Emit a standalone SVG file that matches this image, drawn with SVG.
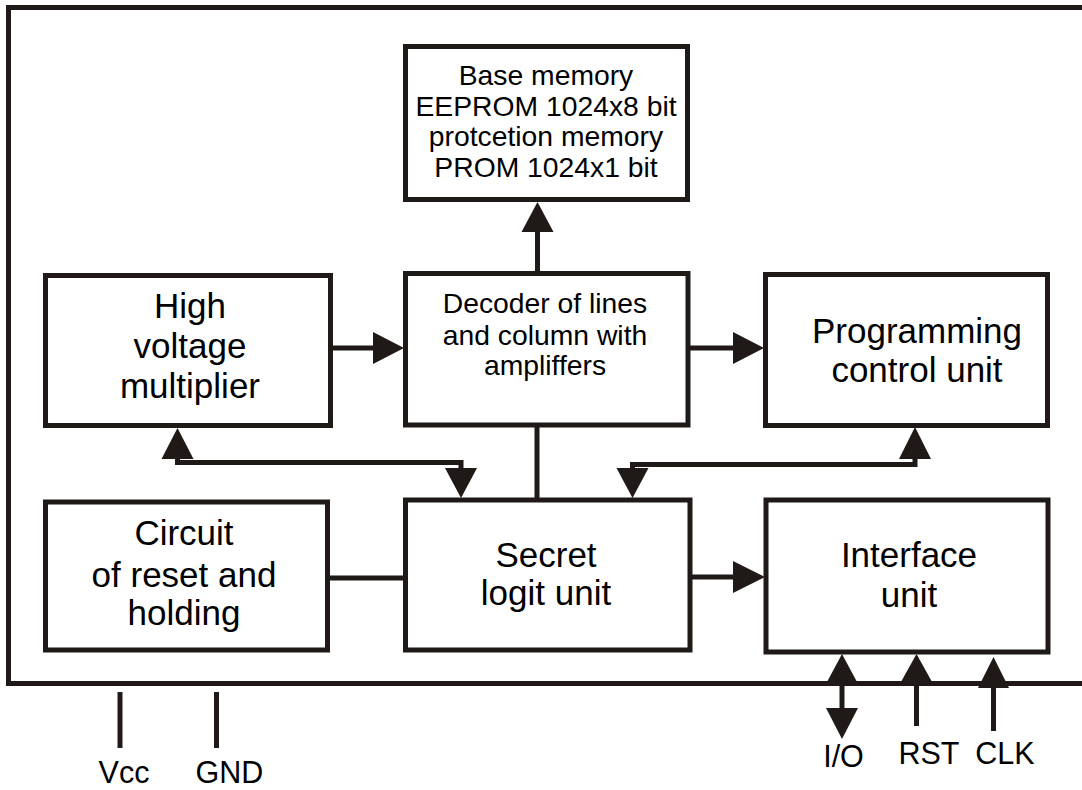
<svg xmlns="http://www.w3.org/2000/svg" width="1082" height="790" viewBox="0 0 1082 790">
<style>
.box{fill:#fff;stroke:#1f1a17;stroke-width:5}
.ln{fill:none;stroke:#1f1a17;stroke-width:5;stroke-linejoin:miter;stroke-linecap:butt}
.ah{fill:#1f1a17;stroke:none}
.t{font-family:"Liberation Sans",Arial,sans-serif;fill:#000;text-anchor:middle}
.s{font-size:28.3px}
.b{font-size:35px}
.p{font-size:30.5px}
</style>
<rect width="1082" height="790" fill="#fff"/>
<g id="frame">
<path class="ln" d="M1082 7.5H8.5V683.5H1082"/>
</g>
<g id="memory">
<rect class="box" x="405.5" y="46.5" width="282" height="153"/>
<text class="t s" x="546" y="85">Base memory</text>
<text class="t s" x="546" y="116">EEPROM 1024x8 bit</text>
<text class="t s" x="546" y="146">protcetion memory</text>
<text class="t s" x="546" y="177">PROM 1024x1 bit</text>
</g>
<g id="hv">
<rect class="box" x="45.5" y="275.5" width="285" height="150"/>
<text class="t b" x="190" y="318">High</text>
<text class="t b" x="190" y="358">voltage</text>
<text class="t b" x="190" y="398">multiplier</text>
</g>
<g id="decoder">
<rect class="box" x="405.5" y="273.5" width="282.5" height="151.5"/>
<text class="t s" x="545" y="313">Decoder of lines</text>
<text class="t s" x="545" y="345">and column with</text>
<text class="t s" x="545" y="375">ampliffers</text>
</g>
<g id="programming">
<rect class="box" x="765.5" y="274.5" width="282" height="151"/>
<text class="t b" x="917" y="343">Programming</text>
<text class="t b" x="917" y="382">control unit</text>
</g>
<g id="circuit">
<rect class="box" x="45.5" y="502" width="282" height="148"/>
<text class="t b" x="184" y="545">Circuit</text>
<text class="t b" x="184" y="587">of reset and</text>
<text class="t b" x="184" y="625">holding</text>
</g>
<g id="secret">
<rect class="box" x="405.5" y="500" width="284.5" height="150"/>
<text class="t b" x="546" y="567">Secret</text>
<text class="t b" x="546" y="605">logit unit</text>
</g>
<g id="interface">
<rect class="box" x="766" y="500" width="282" height="152"/>
<text class="t b" x="909" y="567">Interface</text>
<text class="t b" x="909" y="607">unit</text>
</g>
<g id="connectors">
<line class="ln" x1="537.5" y1="273" x2="537.5" y2="230"/>
<polygon class="ah" points="537.5,202 521.5,232 553.5,232"/>
<line class="ln" x1="331" y1="348" x2="374" y2="348"/>
<polygon class="ah" points="404,348 373,332 373,364"/>
<line class="ln" x1="688" y1="348" x2="734" y2="348"/>
<polygon class="ah" points="764,348 733,332 733,364"/>
<polyline class="ln" points="177.5,458 177.5,462.5 461,462.5 461,470"/>
<polygon class="ah" points="177.5,428 161.5,459 193.5,459"/>
<polygon class="ah" points="461,498 445,468 477,468"/>
<polyline class="ln" points="915,458 915,464.5 632.5,464.5 632.5,470"/>
<polygon class="ah" points="915,427 899,459 931,459"/>
<polygon class="ah" points="632.5,498 616.5,468 648.5,468"/>
<line class="ln" x1="537" y1="425" x2="537" y2="500"/>
<line class="ln" x1="328" y1="578" x2="405" y2="578"/>
<line class="ln" x1="690" y1="577" x2="735" y2="577"/>
<polygon class="ah" points="765,577 733,561 733,593"/>
</g>
<g id="pins">
<polygon class="ah" points="842,654 827.5,681 856.5,681"/>
<line class="ln" x1="842" y1="680" x2="842" y2="709"/>
<polygon class="ah" points="842,739 826,708 858,708"/>
<polygon class="ah" points="916.5,654 901.5,681 931.5,681"/>
<line class="ln" x1="916.5" y1="680" x2="916.5" y2="726"/>
<polygon class="ah" points="993.5,657 978,688 1009,688"/>
<line class="ln" x1="993.5" y1="687" x2="993.5" y2="731"/>
<line class="ln" x1="120" y1="692" x2="120" y2="748"/>
<line class="ln" x1="216.5" y1="692" x2="216.5" y2="748"/>
<text class="t p" x="124" y="783">Vcc</text>
<text class="t p" x="229.5" y="783">GND</text>
<text class="t p" x="843.5" y="767">I/O</text>
<text class="t p" x="929" y="764">RST</text>
<text class="t p" x="1005" y="764">CLK</text>
</g>
</svg>
